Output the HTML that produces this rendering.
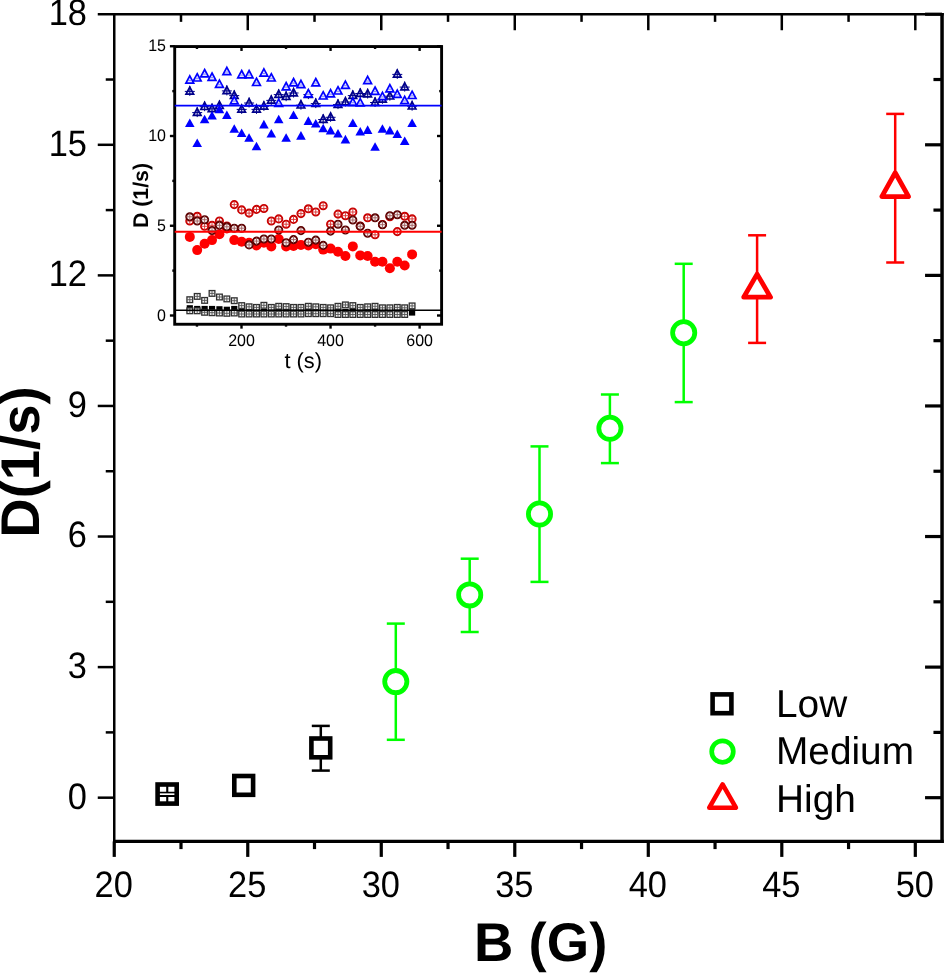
<!DOCTYPE html>
<html><head><meta charset="utf-8"><title>D vs B</title>
<style>html,body{margin:0;padding:0;background:#fff;}body{width:944px;height:974px;overflow:hidden;font-family:"Liberation Sans",sans-serif;}</style>
</head><body>
<svg width="944" height="974" viewBox="0 0 944 974" style="display:block;will-change:transform" text-rendering="geometricPrecision">
<rect width="944" height="974" fill="#fff"/>
<g stroke="#000" fill="none" stroke-linecap="butt">
<line x1="114.25" y1="12.950000000000001" x2="114.25" y2="842.9" stroke-width="2.5"/>
<line x1="942.05" y1="12.950000000000001" x2="942.05" y2="842.9" stroke-width="3.5"/>
<line x1="113.05" y1="14.15" x2="943.75" y2="14.15" stroke-width="2.5"/>
<line x1="113.05" y1="841.4" x2="943.75" y2="841.4" stroke-width="3.2"/>
<line x1="97.75" y1="797.68" x2="114.25" y2="797.68" stroke-width="2.5"/>
<line x1="925.05" y1="797.68" x2="942.05" y2="797.68" stroke-width="3.2"/>
<line x1="97.75" y1="667.11" x2="114.25" y2="667.11" stroke-width="2.5"/>
<line x1="925.05" y1="667.11" x2="942.05" y2="667.11" stroke-width="3.2"/>
<line x1="97.75" y1="536.53" x2="114.25" y2="536.53" stroke-width="2.5"/>
<line x1="925.05" y1="536.53" x2="942.05" y2="536.53" stroke-width="3.2"/>
<line x1="97.75" y1="405.95" x2="114.25" y2="405.95" stroke-width="2.5"/>
<line x1="925.05" y1="405.95" x2="942.05" y2="405.95" stroke-width="3.2"/>
<line x1="97.75" y1="275.38" x2="114.25" y2="275.38" stroke-width="2.5"/>
<line x1="925.05" y1="275.38" x2="942.05" y2="275.38" stroke-width="3.2"/>
<line x1="97.75" y1="144.80" x2="114.25" y2="144.80" stroke-width="2.5"/>
<line x1="925.05" y1="144.80" x2="942.05" y2="144.80" stroke-width="3.2"/>
<line x1="97.75" y1="14.23" x2="114.25" y2="14.23" stroke-width="2.5"/>
<line x1="925.05" y1="14.23" x2="942.05" y2="14.23" stroke-width="3.2"/>
<line x1="105.75" y1="732.39" x2="114.25" y2="732.39" stroke-width="2.5"/>
<line x1="933.4499999999999" y1="732.39" x2="942.05" y2="732.39" stroke-width="3.2"/>
<line x1="105.75" y1="601.82" x2="114.25" y2="601.82" stroke-width="2.5"/>
<line x1="933.4499999999999" y1="601.82" x2="942.05" y2="601.82" stroke-width="3.2"/>
<line x1="105.75" y1="471.24" x2="114.25" y2="471.24" stroke-width="2.5"/>
<line x1="933.4499999999999" y1="471.24" x2="942.05" y2="471.24" stroke-width="3.2"/>
<line x1="105.75" y1="340.67" x2="114.25" y2="340.67" stroke-width="2.5"/>
<line x1="933.4499999999999" y1="340.67" x2="942.05" y2="340.67" stroke-width="3.2"/>
<line x1="105.75" y1="210.09" x2="114.25" y2="210.09" stroke-width="2.5"/>
<line x1="933.4499999999999" y1="210.09" x2="942.05" y2="210.09" stroke-width="3.2"/>
<line x1="105.75" y1="79.52" x2="114.25" y2="79.52" stroke-width="2.5"/>
<line x1="933.4499999999999" y1="79.52" x2="942.05" y2="79.52" stroke-width="3.2"/>
<line x1="114.25" y1="841.4" x2="114.25" y2="856.9" stroke-width="3.2"/>
<line x1="247.76" y1="841.4" x2="247.76" y2="856.9" stroke-width="3.2"/>
<line x1="247.76" y1="14.15" x2="247.76" y2="30.25" stroke-width="2.5"/>
<line x1="381.27" y1="841.4" x2="381.27" y2="856.9" stroke-width="3.2"/>
<line x1="381.27" y1="14.15" x2="381.27" y2="30.25" stroke-width="2.5"/>
<line x1="514.78" y1="841.4" x2="514.78" y2="856.9" stroke-width="3.2"/>
<line x1="514.78" y1="14.15" x2="514.78" y2="30.25" stroke-width="2.5"/>
<line x1="648.29" y1="841.4" x2="648.29" y2="856.9" stroke-width="3.2"/>
<line x1="648.29" y1="14.15" x2="648.29" y2="30.25" stroke-width="2.5"/>
<line x1="781.80" y1="841.4" x2="781.80" y2="856.9" stroke-width="3.2"/>
<line x1="781.80" y1="14.15" x2="781.80" y2="30.25" stroke-width="2.5"/>
<line x1="915.31" y1="841.4" x2="915.31" y2="856.9" stroke-width="3.2"/>
<line x1="915.31" y1="14.15" x2="915.31" y2="30.25" stroke-width="2.5"/>
<line x1="181.00" y1="841.4" x2="181.00" y2="849.1" stroke-width="3.2"/>
<line x1="181.00" y1="14.15" x2="181.00" y2="21.85" stroke-width="2.5"/>
<line x1="314.51" y1="841.4" x2="314.51" y2="849.1" stroke-width="3.2"/>
<line x1="314.51" y1="14.15" x2="314.51" y2="21.85" stroke-width="2.5"/>
<line x1="448.03" y1="841.4" x2="448.03" y2="849.1" stroke-width="3.2"/>
<line x1="448.03" y1="14.15" x2="448.03" y2="21.85" stroke-width="2.5"/>
<line x1="581.54" y1="841.4" x2="581.54" y2="849.1" stroke-width="3.2"/>
<line x1="581.54" y1="14.15" x2="581.54" y2="21.85" stroke-width="2.5"/>
<line x1="715.05" y1="841.4" x2="715.05" y2="849.1" stroke-width="3.2"/>
<line x1="715.05" y1="14.15" x2="715.05" y2="21.85" stroke-width="2.5"/>
<line x1="848.56" y1="841.4" x2="848.56" y2="849.1" stroke-width="3.2"/>
<line x1="848.56" y1="14.15" x2="848.56" y2="21.85" stroke-width="2.5"/>
</g>
<g font-family="Liberation Sans, sans-serif" font-size="36.8" fill="#000">
<text transform="translate(87.0,808.58) scale(0.935,1)" text-anchor="end">0</text>
<text transform="translate(87.0,678.00) scale(0.935,1)" text-anchor="end">3</text>
<text transform="translate(87.0,547.43) scale(0.935,1)" text-anchor="end">6</text>
<text transform="translate(87.0,416.85) scale(0.935,1)" text-anchor="end">9</text>
<text transform="translate(87.0,286.28) scale(0.935,1)" text-anchor="end">12</text>
<text transform="translate(87.0,155.70) scale(0.935,1)" text-anchor="end">15</text>
<text transform="translate(87.0,25.13) scale(0.935,1)" text-anchor="end">18</text>
<text transform="translate(113.75,896.7) scale(0.935,1)" text-anchor="middle">20</text>
<text transform="translate(247.26,896.7) scale(0.935,1)" text-anchor="middle">25</text>
<text transform="translate(380.77,896.7) scale(0.935,1)" text-anchor="middle">30</text>
<text transform="translate(514.28,896.7) scale(0.935,1)" text-anchor="middle">35</text>
<text transform="translate(647.79,896.7) scale(0.935,1)" text-anchor="middle">40</text>
<text transform="translate(781.30,896.7) scale(0.935,1)" text-anchor="middle">45</text>
<text transform="translate(914.81,896.7) scale(0.935,1)" text-anchor="middle">50</text>
</g>
<g font-family="Liberation Sans, sans-serif" font-weight="bold" fill="#000">
<text x="540.7" y="960.7" font-size="54.5" text-anchor="middle">B (G)</text>
<text transform="translate(39.4,462.0) rotate(-90)" font-size="54.5" text-anchor="middle">D(1/s)</text>
</g>
<rect x="157.60" y="784.50" width="19.10" height="19.10" fill="#fff" stroke="#000" stroke-width="4.6"/>
<g stroke="#000"><line x1="167.25" y1="786" x2="167.25" y2="792.6" stroke-width="2.1"/><line x1="167.25" y1="796" x2="167.25" y2="802" stroke-width="2.1"/><line x1="159" y1="792.55" x2="175.4" y2="792.55" stroke-width="1.6"/><line x1="159" y1="796.0" x2="175.4" y2="796.0" stroke-width="2.0"/></g>
<rect x="234.30" y="776.00" width="18.80" height="18.80" fill="#fff" stroke="#000" stroke-width="4.6"/>
<g stroke="#000" stroke-width="2.5" fill="none">
<line x1="320.8" y1="725.9" x2="320.8" y2="770.6"/>
<line x1="311.8" y1="725.9" x2="329.8" y2="725.9"/>
<line x1="311.8" y1="770.6" x2="329.8" y2="770.6"/>
</g>
<rect x="311.40" y="738.50" width="18.80" height="18.80" fill="#fff" stroke="#000" stroke-width="4.6"/>
<g stroke="#0f0" stroke-width="2.5" fill="none">
<line x1="395.8" y1="623.6" x2="395.8" y2="739.8"/>
<line x1="386.8" y1="623.6" x2="404.8" y2="623.6"/>
<line x1="386.8" y1="739.8" x2="404.8" y2="739.8"/>
</g>
<circle cx="395.8" cy="681.6" r="11.10" fill="#fff" stroke="#0f0" stroke-width="4.8"/>
<g stroke="#0f0" stroke-width="2.5" fill="none">
<line x1="469.7" y1="558.7" x2="469.7" y2="632.0"/>
<line x1="460.7" y1="558.7" x2="478.7" y2="558.7"/>
<line x1="460.7" y1="632.0" x2="478.7" y2="632.0"/>
</g>
<circle cx="469.7" cy="594.9" r="11.10" fill="#fff" stroke="#0f0" stroke-width="4.8"/>
<g stroke="#0f0" stroke-width="2.5" fill="none">
<line x1="539.5" y1="446.4" x2="539.5" y2="581.9"/>
<line x1="530.5" y1="446.4" x2="548.5" y2="446.4"/>
<line x1="530.5" y1="581.9" x2="548.5" y2="581.9"/>
</g>
<circle cx="539.5" cy="514" r="11.10" fill="#fff" stroke="#0f0" stroke-width="4.8"/>
<g stroke="#0f0" stroke-width="2.5" fill="none">
<line x1="609.9" y1="394.5" x2="609.9" y2="463.1"/>
<line x1="600.9" y1="394.5" x2="618.9" y2="394.5"/>
<line x1="600.9" y1="463.1" x2="618.9" y2="463.1"/>
</g>
<circle cx="609.9" cy="428.3" r="11.10" fill="#fff" stroke="#0f0" stroke-width="4.8"/>
<g stroke="#0f0" stroke-width="2.5" fill="none">
<line x1="683.7" y1="263.8" x2="683.7" y2="402.1"/>
<line x1="674.7" y1="263.8" x2="692.7" y2="263.8"/>
<line x1="674.7" y1="402.1" x2="692.7" y2="402.1"/>
</g>
<circle cx="683.7" cy="332.7" r="11.10" fill="#fff" stroke="#0f0" stroke-width="4.8"/>
<g stroke="#f00" stroke-width="2.5" fill="none">
<line x1="757.1" y1="235.3" x2="757.1" y2="342.9"/>
<line x1="748.1" y1="235.3" x2="766.1" y2="235.3"/>
<line x1="748.1" y1="342.9" x2="766.1" y2="342.9"/>
</g>
<path d="M757.10,274.10 L770.50,297.20 L743.70,297.20 Z" fill="#fff" stroke="#f00" stroke-width="4.8" stroke-linejoin="round"/>
<g stroke="#f00" stroke-width="2.5" fill="none">
<line x1="895.2" y1="113.9" x2="895.2" y2="262.5"/>
<line x1="886.2" y1="113.9" x2="904.2" y2="113.9"/>
<line x1="886.2" y1="262.5" x2="904.2" y2="262.5"/>
</g>
<path d="M895.20,172.80 L908.60,196.60 L881.80,196.60 Z" fill="#fff" stroke="#f00" stroke-width="4.8" stroke-linejoin="round"/>
<rect x="712.60" y="694.40" width="18.80" height="18.80" fill="#fff" stroke="#000" stroke-width="4.6"/>
<circle cx="722.5" cy="751.6" r="10.80" fill="#fff" stroke="#0f0" stroke-width="4.7"/>
<path d="M722.60,784.40 L735.90,807.70 L709.30,807.70 Z" fill="#fff" stroke="#f00" stroke-width="4.6" stroke-linejoin="round"/>
<g font-family="Liberation Sans, sans-serif" font-size="38.8" fill="#000">
<text x="776" y="717.3">Low</text>
<text x="776" y="764.3">Medium</text>
<text x="776" y="812.4">High</text>
</g>
<g stroke="#000" stroke-width="2.9" fill="none">
<rect x="174.7" y="46.55" width="266.90000000000003" height="277.7"/>
</g>
<g stroke="#000" stroke-width="2.4" fill="none">
<line x1="169.89999999999998" y1="315.50" x2="174.7" y2="315.50"/>
<line x1="437.0" y1="315.50" x2="441.6" y2="315.50"/>
<line x1="169.89999999999998" y1="225.75" x2="174.7" y2="225.75"/>
<line x1="437.0" y1="225.75" x2="441.6" y2="225.75"/>
<line x1="169.89999999999998" y1="136.00" x2="174.7" y2="136.00"/>
<line x1="437.0" y1="136.00" x2="441.6" y2="136.00"/>
<line x1="169.89999999999998" y1="46.25" x2="174.7" y2="46.25"/>
<line x1="437.0" y1="46.25" x2="441.6" y2="46.25"/>
<line x1="172.29999999999998" y1="270.62" x2="174.7" y2="270.62"/>
<line x1="439.20000000000005" y1="270.62" x2="441.6" y2="270.62"/>
<line x1="172.29999999999998" y1="180.88" x2="174.7" y2="180.88"/>
<line x1="439.20000000000005" y1="180.88" x2="441.6" y2="180.88"/>
<line x1="172.29999999999998" y1="91.12" x2="174.7" y2="91.12"/>
<line x1="439.20000000000005" y1="91.12" x2="441.6" y2="91.12"/>
<line x1="241.50" y1="324.25" x2="241.50" y2="328.65"/>
<line x1="241.50" y1="46.55" x2="241.50" y2="50.949999999999996"/>
<line x1="330.55" y1="324.25" x2="330.55" y2="328.65"/>
<line x1="330.55" y1="46.55" x2="330.55" y2="50.949999999999996"/>
<line x1="419.62" y1="324.25" x2="419.62" y2="328.65"/>
<line x1="419.62" y1="46.55" x2="419.62" y2="50.949999999999996"/>
<line x1="196.96" y1="324.25" x2="196.96" y2="326.65"/>
<line x1="196.96" y1="46.55" x2="196.96" y2="48.949999999999996"/>
<line x1="286.02" y1="324.25" x2="286.02" y2="326.65"/>
<line x1="286.02" y1="46.55" x2="286.02" y2="48.949999999999996"/>
<line x1="375.08" y1="324.25" x2="375.08" y2="326.65"/>
<line x1="375.08" y1="46.55" x2="375.08" y2="48.949999999999996"/>
</g>
<g font-family="Liberation Sans, sans-serif" font-size="16.7" fill="#000">
<text transform="translate(166,320.50) scale(0.96,1)" text-anchor="end">0</text>
<text transform="translate(166,230.75) scale(0.96,1)" text-anchor="end">5</text>
<text transform="translate(166,141.00) scale(0.96,1)" text-anchor="end">10</text>
<text transform="translate(166,51.25) scale(0.96,1)" text-anchor="end">15</text>
<text transform="translate(241.50,345.9) scale(0.96,1)" text-anchor="middle">200</text>
<text transform="translate(330.55,345.9) scale(0.96,1)" text-anchor="middle">400</text>
<text transform="translate(419.62,345.9) scale(0.96,1)" text-anchor="middle">600</text>
<text x="303.2" y="368.3" font-size="21.8" text-anchor="middle">t (s)</text>
<text transform="translate(148.4,195.5) rotate(-90)" font-size="21.3" font-weight="bold" text-anchor="middle">D (1/s)</text>
</g>
<rect x="186.70" y="305.20" width="6.2" height="6.2" fill="#000"/>
<rect x="194.11" y="305.90" width="6.2" height="6.2" fill="#000"/>
<rect x="201.52" y="305.90" width="6.2" height="6.2" fill="#000"/>
<rect x="208.93" y="305.90" width="6.2" height="6.2" fill="#000"/>
<rect x="216.34" y="306.20" width="6.2" height="6.2" fill="#000"/>
<rect x="223.75" y="306.70" width="6.2" height="6.2" fill="#000"/>
<rect x="231.16" y="305.90" width="6.2" height="6.2" fill="#000"/>
<rect x="238.57" y="308.90" width="6.2" height="6.2" fill="#000"/>
<rect x="245.98" y="308.90" width="6.2" height="6.2" fill="#000"/>
<rect x="253.39" y="308.90" width="6.2" height="6.2" fill="#000"/>
<rect x="260.80" y="308.90" width="6.2" height="6.2" fill="#000"/>
<rect x="268.21" y="308.90" width="6.2" height="6.2" fill="#000"/>
<rect x="275.62" y="308.90" width="6.2" height="6.2" fill="#000"/>
<rect x="283.03" y="308.90" width="6.2" height="6.2" fill="#000"/>
<rect x="290.44" y="308.90" width="6.2" height="6.2" fill="#000"/>
<rect x="297.85" y="308.90" width="6.2" height="6.2" fill="#000"/>
<rect x="305.26" y="308.90" width="6.2" height="6.2" fill="#000"/>
<rect x="312.67" y="308.90" width="6.2" height="6.2" fill="#000"/>
<rect x="320.08" y="308.90" width="6.2" height="6.2" fill="#000"/>
<rect x="327.49" y="308.90" width="6.2" height="6.2" fill="#000"/>
<rect x="334.90" y="308.90" width="6.2" height="6.2" fill="#000"/>
<rect x="342.31" y="308.90" width="6.2" height="6.2" fill="#000"/>
<rect x="349.72" y="308.90" width="6.2" height="6.2" fill="#000"/>
<rect x="357.13" y="308.90" width="6.2" height="6.2" fill="#000"/>
<rect x="364.54" y="308.90" width="6.2" height="6.2" fill="#000"/>
<rect x="371.95" y="308.90" width="6.2" height="6.2" fill="#000"/>
<rect x="379.36" y="308.90" width="6.2" height="6.2" fill="#000"/>
<rect x="386.77" y="308.90" width="6.2" height="6.2" fill="#000"/>
<rect x="394.18" y="308.90" width="6.2" height="6.2" fill="#000"/>
<rect x="401.59" y="308.90" width="6.2" height="6.2" fill="#000"/>
<rect x="409.00" y="309.40" width="6.2" height="6.2" fill="#000"/>
<g stroke="#303030" stroke-width="1.3" fill="#f2f2f2"><rect x="186.95" y="296.85" width="5.7" height="5.7"/><path d="M186.95,299.70h5.7M189.80,296.85v5.7" stroke-width="0.9" stroke="#555"/></g>
<g stroke="#303030" stroke-width="1.3" fill="#f2f2f2"><rect x="194.36" y="293.55" width="5.7" height="5.7"/><path d="M194.36,296.40h5.7M197.21,293.55v5.7" stroke-width="0.9" stroke="#555"/></g>
<g stroke="#303030" stroke-width="1.3" fill="#f2f2f2"><rect x="201.77" y="297.55" width="5.7" height="5.7"/><path d="M201.77,300.40h5.7M204.62,297.55v5.7" stroke-width="0.9" stroke="#555"/></g>
<g stroke="#303030" stroke-width="1.3" fill="#f2f2f2"><rect x="209.18" y="290.55" width="5.7" height="5.7"/><path d="M209.18,293.40h5.7M212.03,290.55v5.7" stroke-width="0.9" stroke="#555"/></g>
<g stroke="#303030" stroke-width="1.3" fill="#f2f2f2"><rect x="216.59" y="294.15" width="5.7" height="5.7"/><path d="M216.59,297.00h5.7M219.44,294.15v5.7" stroke-width="0.9" stroke="#555"/></g>
<g stroke="#303030" stroke-width="1.3" fill="#f2f2f2"><rect x="224.00" y="296.05" width="5.7" height="5.7"/><path d="M224.00,298.90h5.7M226.85,296.05v5.7" stroke-width="0.9" stroke="#555"/></g>
<g stroke="#303030" stroke-width="1.3" fill="#f2f2f2"><rect x="231.41" y="297.85" width="5.7" height="5.7"/><path d="M231.41,300.70h5.7M234.26,297.85v5.7" stroke-width="0.9" stroke="#555"/></g>
<g stroke="#303030" stroke-width="1.3" fill="#f2f2f2"><rect x="238.82" y="302.75" width="5.7" height="5.7"/><path d="M238.82,305.60h5.7M241.67,302.75v5.7" stroke-width="0.9" stroke="#555"/></g>
<g stroke="#303030" stroke-width="1.3" fill="#f2f2f2"><rect x="246.23" y="303.95" width="5.7" height="5.7"/><path d="M246.23,306.80h5.7M249.08,303.95v5.7" stroke-width="0.9" stroke="#555"/></g>
<g stroke="#303030" stroke-width="1.3" fill="#f2f2f2"><rect x="253.64" y="304.55" width="5.7" height="5.7"/><path d="M253.64,307.40h5.7M256.49,304.55v5.7" stroke-width="0.9" stroke="#555"/></g>
<g stroke="#303030" stroke-width="1.3" fill="#f2f2f2"><rect x="261.05" y="302.45" width="5.7" height="5.7"/><path d="M261.05,305.30h5.7M263.90,302.45v5.7" stroke-width="0.9" stroke="#555"/></g>
<g stroke="#303030" stroke-width="1.3" fill="#f2f2f2"><rect x="268.46" y="304.55" width="5.7" height="5.7"/><path d="M268.46,307.40h5.7M271.31,304.55v5.7" stroke-width="0.9" stroke="#555"/></g>
<g stroke="#303030" stroke-width="1.3" fill="#f2f2f2"><rect x="275.87" y="303.45" width="5.7" height="5.7"/><path d="M275.87,306.30h5.7M278.72,303.45v5.7" stroke-width="0.9" stroke="#555"/></g>
<g stroke="#303030" stroke-width="1.3" fill="#f2f2f2"><rect x="283.28" y="303.75" width="5.7" height="5.7"/><path d="M283.28,306.60h5.7M286.13,303.75v5.7" stroke-width="0.9" stroke="#555"/></g>
<g stroke="#303030" stroke-width="1.3" fill="#f2f2f2"><rect x="290.69" y="304.55" width="5.7" height="5.7"/><path d="M290.69,307.40h5.7M293.54,304.55v5.7" stroke-width="0.9" stroke="#555"/></g>
<g stroke="#303030" stroke-width="1.3" fill="#f2f2f2"><rect x="298.10" y="304.55" width="5.7" height="5.7"/><path d="M298.10,307.40h5.7M300.95,304.55v5.7" stroke-width="0.9" stroke="#555"/></g>
<g stroke="#303030" stroke-width="1.3" fill="#f2f2f2"><rect x="305.51" y="303.45" width="5.7" height="5.7"/><path d="M305.51,306.30h5.7M308.36,303.45v5.7" stroke-width="0.9" stroke="#555"/></g>
<g stroke="#303030" stroke-width="1.3" fill="#f2f2f2"><rect x="312.92" y="303.95" width="5.7" height="5.7"/><path d="M312.92,306.80h5.7M315.77,303.95v5.7" stroke-width="0.9" stroke="#555"/></g>
<g stroke="#303030" stroke-width="1.3" fill="#f2f2f2"><rect x="320.33" y="304.55" width="5.7" height="5.7"/><path d="M320.33,307.40h5.7M323.18,304.55v5.7" stroke-width="0.9" stroke="#555"/></g>
<g stroke="#303030" stroke-width="1.3" fill="#f2f2f2"><rect x="327.74" y="304.95" width="5.7" height="5.7"/><path d="M327.74,307.80h5.7M330.59,304.95v5.7" stroke-width="0.9" stroke="#555"/></g>
<g stroke="#303030" stroke-width="1.3" fill="#f2f2f2"><rect x="335.15" y="303.45" width="5.7" height="5.7"/><path d="M335.15,306.30h5.7M338.00,303.45v5.7" stroke-width="0.9" stroke="#555"/></g>
<g stroke="#303030" stroke-width="1.3" fill="#f2f2f2"><rect x="342.56" y="302.05" width="5.7" height="5.7"/><path d="M342.56,304.90h5.7M345.41,302.05v5.7" stroke-width="0.9" stroke="#555"/></g>
<g stroke="#303030" stroke-width="1.3" fill="#f2f2f2"><rect x="349.97" y="302.75" width="5.7" height="5.7"/><path d="M349.97,305.60h5.7M352.82,302.75v5.7" stroke-width="0.9" stroke="#555"/></g>
<g stroke="#303030" stroke-width="1.3" fill="#f2f2f2"><rect x="357.38" y="304.55" width="5.7" height="5.7"/><path d="M357.38,307.40h5.7M360.23,304.55v5.7" stroke-width="0.9" stroke="#555"/></g>
<g stroke="#303030" stroke-width="1.3" fill="#f2f2f2"><rect x="364.79" y="303.95" width="5.7" height="5.7"/><path d="M364.79,306.80h5.7M367.64,303.95v5.7" stroke-width="0.9" stroke="#555"/></g>
<g stroke="#303030" stroke-width="1.3" fill="#f2f2f2"><rect x="372.20" y="303.45" width="5.7" height="5.7"/><path d="M372.20,306.30h5.7M375.05,303.45v5.7" stroke-width="0.9" stroke="#555"/></g>
<g stroke="#303030" stroke-width="1.3" fill="#f2f2f2"><rect x="379.61" y="304.95" width="5.7" height="5.7"/><path d="M379.61,307.80h5.7M382.46,304.95v5.7" stroke-width="0.9" stroke="#555"/></g>
<g stroke="#303030" stroke-width="1.3" fill="#f2f2f2"><rect x="387.02" y="304.95" width="5.7" height="5.7"/><path d="M387.02,307.80h5.7M389.87,304.95v5.7" stroke-width="0.9" stroke="#555"/></g>
<g stroke="#303030" stroke-width="1.3" fill="#f2f2f2"><rect x="394.43" y="304.55" width="5.7" height="5.7"/><path d="M394.43,307.40h5.7M397.28,304.55v5.7" stroke-width="0.9" stroke="#555"/></g>
<g stroke="#303030" stroke-width="1.3" fill="#f2f2f2"><rect x="401.84" y="304.95" width="5.7" height="5.7"/><path d="M401.84,307.80h5.7M404.69,304.95v5.7" stroke-width="0.9" stroke="#555"/></g>
<g stroke="#303030" stroke-width="1.3" fill="#f2f2f2"><rect x="409.25" y="303.05" width="5.7" height="5.7"/><path d="M409.25,305.90h5.7M412.10,303.05v5.7" stroke-width="0.9" stroke="#555"/></g>
<g stroke="#303030" stroke-width="1.3" fill="#f2f2f2"><rect x="186.95" y="307.95" width="5.7" height="5.7"/><path d="M186.95,310.80h5.7M189.80,307.95v5.7" stroke-width="0.9" stroke="#555"/></g>
<g stroke="#303030" stroke-width="1.3" fill="#f2f2f2"><rect x="194.36" y="307.95" width="5.7" height="5.7"/><path d="M194.36,310.80h5.7M197.21,307.95v5.7" stroke-width="0.9" stroke="#555"/></g>
<g stroke="#303030" stroke-width="1.3" fill="#f2f2f2"><rect x="201.77" y="309.45" width="5.7" height="5.7"/><path d="M201.77,312.30h5.7M204.62,309.45v5.7" stroke-width="0.9" stroke="#555"/></g>
<g stroke="#303030" stroke-width="1.3" fill="#f2f2f2"><rect x="209.18" y="309.85" width="5.7" height="5.7"/><path d="M209.18,312.70h5.7M212.03,309.85v5.7" stroke-width="0.9" stroke="#555"/></g>
<g stroke="#303030" stroke-width="1.3" fill="#f2f2f2"><rect x="216.59" y="310.15" width="5.7" height="5.7"/><path d="M216.59,313.00h5.7M219.44,310.15v5.7" stroke-width="0.9" stroke="#555"/></g>
<g stroke="#303030" stroke-width="1.3" fill="#f2f2f2"><rect x="224.00" y="310.45" width="5.7" height="5.7"/><path d="M224.00,313.30h5.7M226.85,310.45v5.7" stroke-width="0.9" stroke="#555"/></g>
<g stroke="#303030" stroke-width="1.3" fill="#f2f2f2"><rect x="231.41" y="310.15" width="5.7" height="5.7"/><path d="M231.41,313.00h5.7M234.26,310.15v5.7" stroke-width="0.9" stroke="#555"/></g>
<g stroke="#303030" stroke-width="1.3" fill="#f2f2f2"><rect x="238.82" y="311.15" width="5.7" height="5.7"/><path d="M238.82,314.00h5.7M241.67,311.15v5.7" stroke-width="0.9" stroke="#555"/></g>
<g stroke="#303030" stroke-width="1.3" fill="#f2f2f2"><rect x="246.23" y="311.15" width="5.7" height="5.7"/><path d="M246.23,314.00h5.7M249.08,311.15v5.7" stroke-width="0.9" stroke="#555"/></g>
<g stroke="#303030" stroke-width="1.3" fill="#f2f2f2"><rect x="253.64" y="311.15" width="5.7" height="5.7"/><path d="M253.64,314.00h5.7M256.49,311.15v5.7" stroke-width="0.9" stroke="#555"/></g>
<g stroke="#303030" stroke-width="1.3" fill="#f2f2f2"><rect x="261.05" y="311.15" width="5.7" height="5.7"/><path d="M261.05,314.00h5.7M263.90,311.15v5.7" stroke-width="0.9" stroke="#555"/></g>
<g stroke="#303030" stroke-width="1.3" fill="#f2f2f2"><rect x="268.46" y="311.15" width="5.7" height="5.7"/><path d="M268.46,314.00h5.7M271.31,311.15v5.7" stroke-width="0.9" stroke="#555"/></g>
<g stroke="#303030" stroke-width="1.3" fill="#f2f2f2"><rect x="275.87" y="311.15" width="5.7" height="5.7"/><path d="M275.87,314.00h5.7M278.72,311.15v5.7" stroke-width="0.9" stroke="#555"/></g>
<g stroke="#303030" stroke-width="1.3" fill="#f2f2f2"><rect x="283.28" y="311.15" width="5.7" height="5.7"/><path d="M283.28,314.00h5.7M286.13,311.15v5.7" stroke-width="0.9" stroke="#555"/></g>
<g stroke="#303030" stroke-width="1.3" fill="#f2f2f2"><rect x="290.69" y="311.15" width="5.7" height="5.7"/><path d="M290.69,314.00h5.7M293.54,311.15v5.7" stroke-width="0.9" stroke="#555"/></g>
<g stroke="#303030" stroke-width="1.3" fill="#f2f2f2"><rect x="298.10" y="311.15" width="5.7" height="5.7"/><path d="M298.10,314.00h5.7M300.95,311.15v5.7" stroke-width="0.9" stroke="#555"/></g>
<g stroke="#303030" stroke-width="1.3" fill="#f2f2f2"><rect x="305.51" y="310.85" width="5.7" height="5.7"/><path d="M305.51,313.70h5.7M308.36,310.85v5.7" stroke-width="0.9" stroke="#555"/></g>
<g stroke="#303030" stroke-width="1.3" fill="#f2f2f2"><rect x="312.92" y="310.85" width="5.7" height="5.7"/><path d="M312.92,313.70h5.7M315.77,310.85v5.7" stroke-width="0.9" stroke="#555"/></g>
<g stroke="#303030" stroke-width="1.3" fill="#f2f2f2"><rect x="320.33" y="310.85" width="5.7" height="5.7"/><path d="M320.33,313.70h5.7M323.18,310.85v5.7" stroke-width="0.9" stroke="#555"/></g>
<g stroke="#303030" stroke-width="1.3" fill="#f2f2f2"><rect x="327.74" y="310.85" width="5.7" height="5.7"/><path d="M327.74,313.70h5.7M330.59,310.85v5.7" stroke-width="0.9" stroke="#555"/></g>
<g stroke="#303030" stroke-width="1.3" fill="#f2f2f2"><rect x="335.15" y="311.65" width="5.7" height="5.7"/><path d="M335.15,314.50h5.7M338.00,311.65v5.7" stroke-width="0.9" stroke="#555"/></g>
<g stroke="#303030" stroke-width="1.3" fill="#f2f2f2"><rect x="342.56" y="311.65" width="5.7" height="5.7"/><path d="M342.56,314.50h5.7M345.41,311.65v5.7" stroke-width="0.9" stroke="#555"/></g>
<g stroke="#303030" stroke-width="1.3" fill="#f2f2f2"><rect x="349.97" y="311.65" width="5.7" height="5.7"/><path d="M349.97,314.50h5.7M352.82,311.65v5.7" stroke-width="0.9" stroke="#555"/></g>
<g stroke="#303030" stroke-width="1.3" fill="#f2f2f2"><rect x="357.38" y="311.65" width="5.7" height="5.7"/><path d="M357.38,314.50h5.7M360.23,311.65v5.7" stroke-width="0.9" stroke="#555"/></g>
<g stroke="#303030" stroke-width="1.3" fill="#f2f2f2"><rect x="364.79" y="311.65" width="5.7" height="5.7"/><path d="M364.79,314.50h5.7M367.64,311.65v5.7" stroke-width="0.9" stroke="#555"/></g>
<g stroke="#303030" stroke-width="1.3" fill="#f2f2f2"><rect x="372.20" y="311.65" width="5.7" height="5.7"/><path d="M372.20,314.50h5.7M375.05,311.65v5.7" stroke-width="0.9" stroke="#555"/></g>
<g stroke="#303030" stroke-width="1.3" fill="#f2f2f2"><rect x="379.61" y="311.65" width="5.7" height="5.7"/><path d="M379.61,314.50h5.7M382.46,311.65v5.7" stroke-width="0.9" stroke="#555"/></g>
<g stroke="#303030" stroke-width="1.3" fill="#f2f2f2"><rect x="387.02" y="311.65" width="5.7" height="5.7"/><path d="M387.02,314.50h5.7M389.87,311.65v5.7" stroke-width="0.9" stroke="#555"/></g>
<g stroke="#303030" stroke-width="1.3" fill="#f2f2f2"><rect x="394.43" y="311.65" width="5.7" height="5.7"/><path d="M394.43,314.50h5.7M397.28,311.65v5.7" stroke-width="0.9" stroke="#555"/></g>
<g stroke="#303030" stroke-width="1.3" fill="#f2f2f2"><rect x="401.84" y="311.65" width="5.7" height="5.7"/><path d="M401.84,314.50h5.7M404.69,311.65v5.7" stroke-width="0.9" stroke="#555"/></g>
<line x1="174.7" y1="310.2" x2="441.6" y2="310.2" stroke="#000" stroke-width="1.6"/>
<circle cx="189.80" cy="236.90" r="5.0" fill="#f00"/>
<circle cx="197.21" cy="250.10" r="5.0" fill="#f00"/>
<circle cx="204.62" cy="243.80" r="5.0" fill="#f00"/>
<circle cx="212.03" cy="240.10" r="5.0" fill="#f00"/>
<circle cx="219.44" cy="234.30" r="5.0" fill="#f00"/>
<circle cx="226.85" cy="228.50" r="5.0" fill="#f00"/>
<circle cx="234.26" cy="240.10" r="5.0" fill="#f00"/>
<circle cx="241.67" cy="241.70" r="5.0" fill="#f00"/>
<circle cx="249.08" cy="242.70" r="5.0" fill="#f00"/>
<circle cx="256.49" cy="245.40" r="5.0" fill="#f00"/>
<circle cx="263.90" cy="242.80" r="5.0" fill="#f00"/>
<circle cx="271.31" cy="246.40" r="5.0" fill="#f00"/>
<circle cx="278.72" cy="239.00" r="5.0" fill="#f00"/>
<circle cx="286.13" cy="246.40" r="5.0" fill="#f00"/>
<circle cx="293.54" cy="245.90" r="5.0" fill="#f00"/>
<circle cx="300.95" cy="244.90" r="5.0" fill="#f00"/>
<circle cx="308.36" cy="245.40" r="5.0" fill="#f00"/>
<circle cx="315.77" cy="244.30" r="5.0" fill="#f00"/>
<circle cx="323.18" cy="249.60" r="5.0" fill="#f00"/>
<circle cx="330.59" cy="248.60" r="5.0" fill="#f00"/>
<circle cx="338.00" cy="251.70" r="5.0" fill="#f00"/>
<circle cx="345.41" cy="256.00" r="5.0" fill="#f00"/>
<circle cx="352.82" cy="246.40" r="5.0" fill="#f00"/>
<circle cx="360.23" cy="255.40" r="5.0" fill="#f00"/>
<circle cx="367.64" cy="256.00" r="5.0" fill="#f00"/>
<circle cx="375.05" cy="261.80" r="5.0" fill="#f00"/>
<circle cx="382.46" cy="261.80" r="5.0" fill="#f00"/>
<circle cx="389.87" cy="268.20" r="5.0" fill="#f00"/>
<circle cx="397.28" cy="261.80" r="5.0" fill="#f00"/>
<circle cx="404.69" cy="265.50" r="5.0" fill="#f00"/>
<circle cx="412.10" cy="254.40" r="5.0" fill="#f00"/>
<g stroke="#c80000" fill="#fff" stroke-width="1.9"><circle cx="189.80" cy="221.00" r="3.6"/><path d="M186.20,221.00h7.2M189.80,217.40v7.2" stroke-width="0.9" stroke="#d83030"/></g>
<g stroke="#c80000" fill="#fff" stroke-width="1.9"><circle cx="197.21" cy="216.30" r="3.6"/><path d="M193.61,216.30h7.2M197.21,212.70v7.2" stroke-width="0.9" stroke="#d83030"/></g>
<g stroke="#c80000" fill="#fff" stroke-width="1.9"><circle cx="204.62" cy="226.30" r="3.6"/><path d="M201.02,226.30h7.2M204.62,222.70v7.2" stroke-width="0.9" stroke="#d83030"/></g>
<g stroke="#c80000" fill="#fff" stroke-width="1.9"><circle cx="212.03" cy="225.30" r="3.6"/><path d="M208.43,225.30h7.2M212.03,221.70v7.2" stroke-width="0.9" stroke="#d83030"/></g>
<g stroke="#c80000" fill="#fff" stroke-width="1.9"><circle cx="219.44" cy="221.00" r="3.6"/><path d="M215.84,221.00h7.2M219.44,217.40v7.2" stroke-width="0.9" stroke="#d83030"/></g>
<g stroke="#c80000" fill="#fff" stroke-width="1.9"><circle cx="226.85" cy="226.00" r="3.6"/><path d="M223.25,226.00h7.2M226.85,222.40v7.2" stroke-width="0.9" stroke="#d83030"/></g>
<g stroke="#c80000" fill="#fff" stroke-width="1.9"><circle cx="234.26" cy="204.60" r="3.6"/><path d="M230.66,204.60h7.2M234.26,201.00v7.2" stroke-width="0.9" stroke="#d83030"/></g>
<g stroke="#c80000" fill="#fff" stroke-width="1.9"><circle cx="241.67" cy="209.90" r="3.6"/><path d="M238.07,209.90h7.2M241.67,206.30v7.2" stroke-width="0.9" stroke="#d83030"/></g>
<g stroke="#c80000" fill="#fff" stroke-width="1.9"><circle cx="249.08" cy="213.10" r="3.6"/><path d="M245.48,213.10h7.2M249.08,209.50v7.2" stroke-width="0.9" stroke="#d83030"/></g>
<g stroke="#c80000" fill="#fff" stroke-width="1.9"><circle cx="256.49" cy="209.40" r="3.6"/><path d="M252.89,209.40h7.2M256.49,205.80v7.2" stroke-width="0.9" stroke="#d83030"/></g>
<g stroke="#c80000" fill="#fff" stroke-width="1.9"><circle cx="263.90" cy="208.50" r="3.6"/><path d="M260.30,208.50h7.2M263.90,204.90v7.2" stroke-width="0.9" stroke="#d83030"/></g>
<g stroke="#c80000" fill="#fff" stroke-width="1.9"><circle cx="271.31" cy="221.00" r="3.6"/><path d="M267.71,221.00h7.2M271.31,217.40v7.2" stroke-width="0.9" stroke="#d83030"/></g>
<g stroke="#c80000" fill="#fff" stroke-width="1.9"><circle cx="278.72" cy="218.90" r="3.6"/><path d="M275.12,218.90h7.2M278.72,215.30v7.2" stroke-width="0.9" stroke="#d83030"/></g>
<g stroke="#c80000" fill="#fff" stroke-width="1.9"><circle cx="286.13" cy="224.20" r="3.6"/><path d="M282.53,224.20h7.2M286.13,220.60v7.2" stroke-width="0.9" stroke="#d83030"/></g>
<g stroke="#c80000" fill="#fff" stroke-width="1.9"><circle cx="293.54" cy="219.40" r="3.6"/><path d="M289.94,219.40h7.2M293.54,215.80v7.2" stroke-width="0.9" stroke="#d83030"/></g>
<g stroke="#c80000" fill="#fff" stroke-width="1.9"><circle cx="300.95" cy="213.60" r="3.6"/><path d="M297.35,213.60h7.2M300.95,210.00v7.2" stroke-width="0.9" stroke="#d83030"/></g>
<g stroke="#c80000" fill="#fff" stroke-width="1.9"><circle cx="308.36" cy="208.80" r="3.6"/><path d="M304.76,208.80h7.2M308.36,205.20v7.2" stroke-width="0.9" stroke="#d83030"/></g>
<g stroke="#c80000" fill="#fff" stroke-width="1.9"><circle cx="315.77" cy="212.00" r="3.6"/><path d="M312.17,212.00h7.2M315.77,208.40v7.2" stroke-width="0.9" stroke="#d83030"/></g>
<g stroke="#c80000" fill="#fff" stroke-width="1.9"><circle cx="323.18" cy="205.70" r="3.6"/><path d="M319.58,205.70h7.2M323.18,202.10v7.2" stroke-width="0.9" stroke="#d83030"/></g>
<g stroke="#c80000" fill="#fff" stroke-width="1.9"><circle cx="330.59" cy="224.20" r="3.6"/><path d="M326.99,224.20h7.2M330.59,220.60v7.2" stroke-width="0.9" stroke="#d83030"/></g>
<g stroke="#c80000" fill="#fff" stroke-width="1.9"><circle cx="338.00" cy="214.10" r="3.6"/><path d="M334.40,214.10h7.2M338.00,210.50v7.2" stroke-width="0.9" stroke="#d83030"/></g>
<g stroke="#c80000" fill="#fff" stroke-width="1.9"><circle cx="345.41" cy="215.70" r="3.6"/><path d="M341.81,215.70h7.2M345.41,212.10v7.2" stroke-width="0.9" stroke="#d83030"/></g>
<g stroke="#c80000" fill="#fff" stroke-width="1.9"><circle cx="352.82" cy="212.00" r="3.6"/><path d="M349.22,212.00h7.2M352.82,208.40v7.2" stroke-width="0.9" stroke="#d83030"/></g>
<g stroke="#c80000" fill="#fff" stroke-width="1.9"><circle cx="360.23" cy="226.00" r="3.6"/><path d="M356.63,226.00h7.2M360.23,222.40v7.2" stroke-width="0.9" stroke="#d83030"/></g>
<g stroke="#c80000" fill="#fff" stroke-width="1.9"><circle cx="367.64" cy="217.80" r="3.6"/><path d="M364.04,217.80h7.2M367.64,214.20v7.2" stroke-width="0.9" stroke="#d83030"/></g>
<g stroke="#c80000" fill="#fff" stroke-width="1.9"><circle cx="375.05" cy="234.80" r="3.6"/><path d="M371.45,234.80h7.2M375.05,231.20v7.2" stroke-width="0.9" stroke="#d83030"/></g>
<g stroke="#c80000" fill="#fff" stroke-width="1.9"><circle cx="382.46" cy="224.50" r="3.6"/><path d="M378.86,224.50h7.2M382.46,220.90v7.2" stroke-width="0.9" stroke="#d83030"/></g>
<g stroke="#c80000" fill="#fff" stroke-width="1.9"><circle cx="389.87" cy="216.80" r="3.6"/><path d="M386.27,216.80h7.2M389.87,213.20v7.2" stroke-width="0.9" stroke="#d83030"/></g>
<g stroke="#c80000" fill="#fff" stroke-width="1.9"><circle cx="397.28" cy="231.60" r="3.6"/><path d="M393.68,231.60h7.2M397.28,228.00v7.2" stroke-width="0.9" stroke="#d83030"/></g>
<g stroke="#c80000" fill="#fff" stroke-width="1.9"><circle cx="404.69" cy="216.30" r="3.6"/><path d="M401.09,216.30h7.2M404.69,212.70v7.2" stroke-width="0.9" stroke="#d83030"/></g>
<g stroke="#c80000" fill="#fff" stroke-width="1.9"><circle cx="412.10" cy="218.90" r="3.6"/><path d="M408.50,218.90h7.2M412.10,215.30v7.2" stroke-width="0.9" stroke="#d83030"/></g>
<g stroke="#5c0000" fill="#f6f2f2" stroke-width="1.9"><circle cx="189.80" cy="216.80" r="3.6"/><path d="M186.20,216.80h7.2M189.80,213.20v7.2" stroke-width="0.9" stroke="#a06060"/></g>
<g stroke="#5c0000" fill="#f6f2f2" stroke-width="1.9"><circle cx="197.21" cy="221.00" r="3.6"/><path d="M193.61,221.00h7.2M197.21,217.40v7.2" stroke-width="0.9" stroke="#a06060"/></g>
<g stroke="#5c0000" fill="#f6f2f2" stroke-width="1.9"><circle cx="204.62" cy="219.70" r="3.6"/><path d="M201.02,219.70h7.2M204.62,216.10v7.2" stroke-width="0.9" stroke="#a06060"/></g>
<g stroke="#5c0000" fill="#f6f2f2" stroke-width="1.9"><circle cx="212.03" cy="230.60" r="3.6"/><path d="M208.43,230.60h7.2M212.03,227.00v7.2" stroke-width="0.9" stroke="#a06060"/></g>
<g stroke="#5c0000" fill="#f6f2f2" stroke-width="1.9"><circle cx="219.44" cy="225.30" r="3.6"/><path d="M215.84,225.30h7.2M219.44,221.70v7.2" stroke-width="0.9" stroke="#a06060"/></g>
<g stroke="#5c0000" fill="#f6f2f2" stroke-width="1.9"><circle cx="226.85" cy="226.80" r="3.6"/><path d="M223.25,226.80h7.2M226.85,223.20v7.2" stroke-width="0.9" stroke="#a06060"/></g>
<g stroke="#5c0000" fill="#f6f2f2" stroke-width="1.9"><circle cx="234.26" cy="228.20" r="3.6"/><path d="M230.66,228.20h7.2M234.26,224.60v7.2" stroke-width="0.9" stroke="#a06060"/></g>
<g stroke="#5c0000" fill="#f6f2f2" stroke-width="1.9"><circle cx="241.67" cy="228.20" r="3.6"/><path d="M238.07,228.20h7.2M241.67,224.60v7.2" stroke-width="0.9" stroke="#a06060"/></g>
<g stroke="#5c0000" fill="#f6f2f2" stroke-width="1.9"><circle cx="249.08" cy="244.90" r="3.6"/><path d="M245.48,244.90h7.2M249.08,241.30v7.2" stroke-width="0.9" stroke="#a06060"/></g>
<g stroke="#5c0000" fill="#f6f2f2" stroke-width="1.9"><circle cx="256.49" cy="241.10" r="3.6"/><path d="M252.89,241.10h7.2M256.49,237.50v7.2" stroke-width="0.9" stroke="#a06060"/></g>
<g stroke="#5c0000" fill="#f6f2f2" stroke-width="1.9"><circle cx="263.90" cy="239.00" r="3.6"/><path d="M260.30,239.00h7.2M263.90,235.40v7.2" stroke-width="0.9" stroke="#a06060"/></g>
<g stroke="#5c0000" fill="#f6f2f2" stroke-width="1.9"><circle cx="271.31" cy="239.00" r="3.6"/><path d="M267.71,239.00h7.2M271.31,235.40v7.2" stroke-width="0.9" stroke="#a06060"/></g>
<g stroke="#5c0000" fill="#f6f2f2" stroke-width="1.9"><circle cx="278.72" cy="230.00" r="3.6"/><path d="M275.12,230.00h7.2M278.72,226.40v7.2" stroke-width="0.9" stroke="#a06060"/></g>
<g stroke="#5c0000" fill="#f6f2f2" stroke-width="1.9"><circle cx="286.13" cy="242.70" r="3.6"/><path d="M282.53,242.70h7.2M286.13,239.10v7.2" stroke-width="0.9" stroke="#a06060"/></g>
<g stroke="#5c0000" fill="#f6f2f2" stroke-width="1.9"><circle cx="293.54" cy="239.60" r="3.6"/><path d="M289.94,239.60h7.2M293.54,236.00v7.2" stroke-width="0.9" stroke="#a06060"/></g>
<g stroke="#5c0000" fill="#f6f2f2" stroke-width="1.9"><circle cx="300.95" cy="230.60" r="3.6"/><path d="M297.35,230.60h7.2M300.95,227.00v7.2" stroke-width="0.9" stroke="#a06060"/></g>
<g stroke="#5c0000" fill="#f6f2f2" stroke-width="1.9"><circle cx="308.36" cy="242.20" r="3.6"/><path d="M304.76,242.20h7.2M308.36,238.60v7.2" stroke-width="0.9" stroke="#a06060"/></g>
<g stroke="#5c0000" fill="#f6f2f2" stroke-width="1.9"><circle cx="315.77" cy="240.10" r="3.6"/><path d="M312.17,240.10h7.2M315.77,236.50v7.2" stroke-width="0.9" stroke="#a06060"/></g>
<g stroke="#5c0000" fill="#f6f2f2" stroke-width="1.9"><circle cx="323.18" cy="245.40" r="3.6"/><path d="M319.58,245.40h7.2M323.18,241.80v7.2" stroke-width="0.9" stroke="#a06060"/></g>
<g stroke="#5c0000" fill="#f6f2f2" stroke-width="1.9"><circle cx="330.59" cy="231.10" r="3.6"/><path d="M326.99,231.10h7.2M330.59,227.50v7.2" stroke-width="0.9" stroke="#a06060"/></g>
<g stroke="#5c0000" fill="#f6f2f2" stroke-width="1.9"><circle cx="338.00" cy="224.20" r="3.6"/><path d="M334.40,224.20h7.2M338.00,220.60v7.2" stroke-width="0.9" stroke="#a06060"/></g>
<g stroke="#5c0000" fill="#f6f2f2" stroke-width="1.9"><circle cx="345.41" cy="230.00" r="3.6"/><path d="M341.81,230.00h7.2M345.41,226.40v7.2" stroke-width="0.9" stroke="#a06060"/></g>
<g stroke="#5c0000" fill="#f6f2f2" stroke-width="1.9"><circle cx="352.82" cy="220.00" r="3.6"/><path d="M349.22,220.00h7.2M352.82,216.40v7.2" stroke-width="0.9" stroke="#a06060"/></g>
<g stroke="#5c0000" fill="#f6f2f2" stroke-width="1.9"><circle cx="360.23" cy="226.30" r="3.6"/><path d="M356.63,226.30h7.2M360.23,222.70v7.2" stroke-width="0.9" stroke="#a06060"/></g>
<g stroke="#5c0000" fill="#f6f2f2" stroke-width="1.9"><circle cx="367.64" cy="233.20" r="3.6"/><path d="M364.04,233.20h7.2M367.64,229.60v7.2" stroke-width="0.9" stroke="#a06060"/></g>
<g stroke="#5c0000" fill="#f6f2f2" stroke-width="1.9"><circle cx="375.05" cy="217.80" r="3.6"/><path d="M371.45,217.80h7.2M375.05,214.20v7.2" stroke-width="0.9" stroke="#a06060"/></g>
<g stroke="#5c0000" fill="#f6f2f2" stroke-width="1.9"><circle cx="382.46" cy="224.70" r="3.6"/><path d="M378.86,224.70h7.2M382.46,221.10v7.2" stroke-width="0.9" stroke="#a06060"/></g>
<g stroke="#5c0000" fill="#f6f2f2" stroke-width="1.9"><circle cx="389.87" cy="215.70" r="3.6"/><path d="M386.27,215.70h7.2M389.87,212.10v7.2" stroke-width="0.9" stroke="#a06060"/></g>
<g stroke="#5c0000" fill="#f6f2f2" stroke-width="1.9"><circle cx="397.28" cy="214.70" r="3.6"/><path d="M393.68,214.70h7.2M397.28,211.10v7.2" stroke-width="0.9" stroke="#a06060"/></g>
<g stroke="#5c0000" fill="#f6f2f2" stroke-width="1.9"><circle cx="404.69" cy="225.30" r="3.6"/><path d="M401.09,225.30h7.2M404.69,221.70v7.2" stroke-width="0.9" stroke="#a06060"/></g>
<g stroke="#5c0000" fill="#f6f2f2" stroke-width="1.9"><circle cx="412.10" cy="225.30" r="3.6"/><path d="M408.50,225.30h7.2M412.10,221.70v7.2" stroke-width="0.9" stroke="#a06060"/></g>
<line x1="174.7" y1="231.7" x2="441.6" y2="231.7" stroke="#f00" stroke-width="1.9"/>
<g stroke="#00008b" stroke-width="1.7" fill="#dcdcf2"><path d="M189.80,87.10L193.60,94.20L186.00,94.20Z"/><path d="M184.80,91.40h10M189.80,85.90v10" stroke-width="1.0"/></g>
<g stroke="#00008b" stroke-width="1.7" fill="#dcdcf2"><path d="M197.21,108.30L201.01,115.40L193.41,115.40Z"/><path d="M192.21,112.60h10M197.21,107.10v10" stroke-width="1.0"/></g>
<g stroke="#00008b" stroke-width="1.7" fill="#dcdcf2"><path d="M204.62,102.40L208.42,109.50L200.82,109.50Z"/><path d="M199.62,106.70h10M204.62,101.20v10" stroke-width="1.0"/></g>
<g stroke="#00008b" stroke-width="1.7" fill="#dcdcf2"><path d="M212.03,104.60L215.83,111.70L208.23,111.70Z"/><path d="M207.03,108.90h10M212.03,103.40v10" stroke-width="1.0"/></g>
<g stroke="#00008b" stroke-width="1.7" fill="#dcdcf2"><path d="M219.44,101.40L223.24,108.50L215.64,108.50Z"/><path d="M214.44,105.70h10M219.44,100.20v10" stroke-width="1.0"/></g>
<g stroke="#00008b" stroke-width="1.7" fill="#dcdcf2"><path d="M226.85,86.60L230.65,93.70L223.05,93.70Z"/><path d="M221.85,90.90h10M226.85,85.40v10" stroke-width="1.0"/></g>
<g stroke="#00008b" stroke-width="1.7" fill="#dcdcf2"><path d="M234.26,91.30L238.06,98.40L230.46,98.40Z"/><path d="M229.26,95.60h10M234.26,90.10v10" stroke-width="1.0"/></g>
<g stroke="#00008b" stroke-width="1.7" fill="#dcdcf2"><path d="M241.67,105.10L245.47,112.20L237.87,112.20Z"/><path d="M236.67,109.40h10M241.67,103.90v10" stroke-width="1.0"/></g>
<g stroke="#00008b" stroke-width="1.7" fill="#dcdcf2"><path d="M249.08,98.70L252.88,105.80L245.28,105.80Z"/><path d="M244.08,103.00h10M249.08,97.50v10" stroke-width="1.0"/></g>
<g stroke="#00008b" stroke-width="1.7" fill="#dcdcf2"><path d="M256.49,105.10L260.29,112.20L252.69,112.20Z"/><path d="M251.49,109.40h10M256.49,103.90v10" stroke-width="1.0"/></g>
<g stroke="#00008b" stroke-width="1.7" fill="#dcdcf2"><path d="M263.90,102.10L267.70,109.20L260.10,109.20Z"/><path d="M258.90,106.40h10M263.90,100.90v10" stroke-width="1.0"/></g>
<g stroke="#00008b" stroke-width="1.7" fill="#dcdcf2"><path d="M271.31,96.10L275.11,103.20L267.51,103.20Z"/><path d="M266.31,100.40h10M271.31,94.90v10" stroke-width="1.0"/></g>
<g stroke="#00008b" stroke-width="1.7" fill="#dcdcf2"><path d="M278.72,90.30L282.52,97.40L274.92,97.40Z"/><path d="M273.72,94.60h10M278.72,89.10v10" stroke-width="1.0"/></g>
<g stroke="#00008b" stroke-width="1.7" fill="#dcdcf2"><path d="M286.13,92.40L289.93,99.50L282.33,99.50Z"/><path d="M281.13,96.70h10M286.13,91.20v10" stroke-width="1.0"/></g>
<g stroke="#00008b" stroke-width="1.7" fill="#dcdcf2"><path d="M293.54,88.70L297.34,95.80L289.74,95.80Z"/><path d="M288.54,93.00h10M293.54,87.50v10" stroke-width="1.0"/></g>
<g stroke="#00008b" stroke-width="1.7" fill="#dcdcf2"><path d="M300.95,100.90L304.75,108.00L297.15,108.00Z"/><path d="M295.95,105.20h10M300.95,99.70v10" stroke-width="1.0"/></g>
<g stroke="#00008b" stroke-width="1.7" fill="#dcdcf2"><path d="M308.36,90.30L312.16,97.40L304.56,97.40Z"/><path d="M303.36,94.60h10M308.36,89.10v10" stroke-width="1.0"/></g>
<g stroke="#00008b" stroke-width="1.7" fill="#dcdcf2"><path d="M315.77,99.30L319.57,106.40L311.97,106.40Z"/><path d="M310.77,103.60h10M315.77,98.10v10" stroke-width="1.0"/></g>
<g stroke="#00008b" stroke-width="1.7" fill="#dcdcf2"><path d="M323.18,115.20L326.98,122.30L319.38,122.30Z"/><path d="M318.18,119.50h10M323.18,114.00v10" stroke-width="1.0"/></g>
<g stroke="#00008b" stroke-width="1.7" fill="#dcdcf2"><path d="M330.59,113.00L334.39,120.10L326.79,120.10Z"/><path d="M325.59,117.30h10M330.59,111.80v10" stroke-width="1.0"/></g>
<g stroke="#00008b" stroke-width="1.7" fill="#dcdcf2"><path d="M338.00,100.30L341.80,107.40L334.20,107.40Z"/><path d="M333.00,104.60h10M338.00,99.10v10" stroke-width="1.0"/></g>
<g stroke="#00008b" stroke-width="1.7" fill="#dcdcf2"><path d="M345.41,97.70L349.21,104.80L341.61,104.80Z"/><path d="M340.41,102.00h10M345.41,96.50v10" stroke-width="1.0"/></g>
<g stroke="#00008b" stroke-width="1.7" fill="#dcdcf2"><path d="M352.82,91.30L356.62,98.40L349.02,98.40Z"/><path d="M347.82,95.60h10M352.82,90.10v10" stroke-width="1.0"/></g>
<g stroke="#00008b" stroke-width="1.7" fill="#dcdcf2"><path d="M360.23,89.20L364.03,96.30L356.43,96.30Z"/><path d="M355.23,93.50h10M360.23,88.00v10" stroke-width="1.0"/></g>
<g stroke="#00008b" stroke-width="1.7" fill="#dcdcf2"><path d="M367.64,89.70L371.44,96.80L363.84,96.80Z"/><path d="M362.64,94.00h10M367.64,88.50v10" stroke-width="1.0"/></g>
<g stroke="#00008b" stroke-width="1.7" fill="#dcdcf2"><path d="M375.05,98.20L378.85,105.30L371.25,105.30Z"/><path d="M370.05,102.50h10M375.05,97.00v10" stroke-width="1.0"/></g>
<g stroke="#00008b" stroke-width="1.7" fill="#dcdcf2"><path d="M382.46,95.00L386.26,102.10L378.66,102.10Z"/><path d="M377.46,99.30h10M382.46,93.80v10" stroke-width="1.0"/></g>
<g stroke="#00008b" stroke-width="1.7" fill="#dcdcf2"><path d="M389.87,91.90L393.67,99.00L386.07,99.00Z"/><path d="M384.87,96.20h10M389.87,90.70v10" stroke-width="1.0"/></g>
<g stroke="#00008b" stroke-width="1.7" fill="#dcdcf2"><path d="M397.28,70.10L401.08,77.20L393.48,77.20Z"/><path d="M392.28,74.40h10M397.28,68.90v10" stroke-width="1.0"/></g>
<g stroke="#00008b" stroke-width="1.7" fill="#dcdcf2"><path d="M404.69,82.80L408.49,89.90L400.89,89.90Z"/><path d="M399.69,87.10h10M404.69,81.60v10" stroke-width="1.0"/></g>
<g stroke="#00008b" stroke-width="1.7" fill="#dcdcf2"><path d="M412.10,101.90L415.90,109.00L408.30,109.00Z"/><path d="M407.10,106.20h10M412.10,100.70v10" stroke-width="1.0"/></g>
<path d="M189.80,118.40L194.60,127.00L185.00,127.00Z" fill="#0000ff"/>
<path d="M197.21,138.50L202.01,147.10L192.41,147.10Z" fill="#0000ff"/>
<path d="M204.62,114.70L209.42,123.30L199.82,123.30Z" fill="#0000ff"/>
<path d="M212.03,111.00L216.83,119.60L207.23,119.60Z" fill="#0000ff"/>
<path d="M219.44,104.60L224.24,113.20L214.64,113.20Z" fill="#0000ff"/>
<path d="M226.85,110.40L231.65,119.00L222.05,119.00Z" fill="#0000ff"/>
<path d="M234.26,124.20L239.06,132.80L229.46,132.80Z" fill="#0000ff"/>
<path d="M241.67,128.50L246.47,137.10L236.87,137.10Z" fill="#0000ff"/>
<path d="M249.08,133.20L253.88,141.80L244.28,141.80Z" fill="#0000ff"/>
<path d="M256.49,141.70L261.29,150.30L251.69,150.30Z" fill="#0000ff"/>
<path d="M263.90,119.80L268.70,128.40L259.10,128.40Z" fill="#0000ff"/>
<path d="M271.31,129.00L276.11,137.60L266.51,137.60Z" fill="#0000ff"/>
<path d="M278.72,114.70L283.52,123.30L273.92,123.30Z" fill="#0000ff"/>
<path d="M286.13,133.20L290.93,141.80L281.33,141.80Z" fill="#0000ff"/>
<path d="M293.54,110.40L298.34,119.00L288.74,119.00Z" fill="#0000ff"/>
<path d="M300.95,131.10L305.75,139.70L296.15,139.70Z" fill="#0000ff"/>
<path d="M308.36,116.30L313.16,124.90L303.56,124.90Z" fill="#0000ff"/>
<path d="M315.77,118.90L320.57,127.50L310.97,127.50Z" fill="#0000ff"/>
<path d="M323.18,123.70L327.98,132.30L318.38,132.30Z" fill="#0000ff"/>
<path d="M330.59,125.80L335.39,134.40L325.79,134.40Z" fill="#0000ff"/>
<path d="M338.00,129.00L342.80,137.60L333.20,137.60Z" fill="#0000ff"/>
<path d="M345.41,134.80L350.21,143.40L340.61,143.40Z" fill="#0000ff"/>
<path d="M352.82,118.40L357.62,127.00L348.02,127.00Z" fill="#0000ff"/>
<path d="M360.23,126.90L365.03,135.50L355.43,135.50Z" fill="#0000ff"/>
<path d="M367.64,125.30L372.44,133.90L362.84,133.90Z" fill="#0000ff"/>
<path d="M375.05,142.20L379.85,150.80L370.25,150.80Z" fill="#0000ff"/>
<path d="M382.46,124.20L387.26,132.80L377.66,132.80Z" fill="#0000ff"/>
<path d="M389.87,125.80L394.67,134.40L385.07,134.40Z" fill="#0000ff"/>
<path d="M397.28,129.50L402.08,138.10L392.48,138.10Z" fill="#0000ff"/>
<path d="M404.69,136.40L409.49,145.00L399.89,145.00Z" fill="#0000ff"/>
<path d="M412.10,118.40L416.90,127.00L407.30,127.00Z" fill="#0000ff"/>
<g stroke="#0000ff" stroke-width="1.7" fill="#e4e5ff" stroke-linejoin="miter"><path d="M189.80,75.80L193.70,83.10L185.90,83.10Z"/><path d="M187.90,80.40h3.8" stroke-width="0.8" stroke="#6a6cff"/></g>
<g stroke="#0000ff" stroke-width="1.7" fill="#e4e5ff" stroke-linejoin="miter"><path d="M197.21,73.70L201.11,81.00L193.31,81.00Z"/><path d="M195.31,78.30h3.8" stroke-width="0.8" stroke="#6a6cff"/></g>
<g stroke="#0000ff" stroke-width="1.7" fill="#e4e5ff" stroke-linejoin="miter"><path d="M204.62,69.50L208.52,76.80L200.72,76.80Z"/><path d="M202.72,74.10h3.8" stroke-width="0.8" stroke="#6a6cff"/></g>
<g stroke="#0000ff" stroke-width="1.7" fill="#e4e5ff" stroke-linejoin="miter"><path d="M212.03,73.00L215.93,80.30L208.13,80.30Z"/><path d="M210.13,77.60h3.8" stroke-width="0.8" stroke="#6a6cff"/></g>
<g stroke="#0000ff" stroke-width="1.7" fill="#e4e5ff" stroke-linejoin="miter"><path d="M219.44,80.10L223.34,87.40L215.54,87.40Z"/><path d="M217.54,84.70h3.8" stroke-width="0.8" stroke="#6a6cff"/></g>
<g stroke="#0000ff" stroke-width="1.7" fill="#e4e5ff" stroke-linejoin="miter"><path d="M226.85,67.40L230.75,74.70L222.95,74.70Z"/><path d="M224.95,72.00h3.8" stroke-width="0.8" stroke="#6a6cff"/></g>
<g stroke="#0000ff" stroke-width="1.7" fill="#e4e5ff" stroke-linejoin="miter"><path d="M234.26,96.50L238.16,103.80L230.36,103.80Z"/><path d="M232.36,101.10h3.8" stroke-width="0.8" stroke="#6a6cff"/></g>
<g stroke="#0000ff" stroke-width="1.7" fill="#e4e5ff" stroke-linejoin="miter"><path d="M241.67,70.50L245.57,77.80L237.77,77.80Z"/><path d="M239.77,75.10h3.8" stroke-width="0.8" stroke="#6a6cff"/></g>
<g stroke="#0000ff" stroke-width="1.7" fill="#e4e5ff" stroke-linejoin="miter"><path d="M249.08,70.50L252.98,77.80L245.18,77.80Z"/><path d="M247.18,75.10h3.8" stroke-width="0.8" stroke="#6a6cff"/></g>
<g stroke="#0000ff" stroke-width="1.7" fill="#e4e5ff" stroke-linejoin="miter"><path d="M256.49,78.20L260.39,85.50L252.59,85.50Z"/><path d="M254.59,82.80h3.8" stroke-width="0.8" stroke="#6a6cff"/></g>
<g stroke="#0000ff" stroke-width="1.7" fill="#e4e5ff" stroke-linejoin="miter"><path d="M263.90,68.90L267.80,76.20L260.00,76.20Z"/><path d="M262.00,73.50h3.8" stroke-width="0.8" stroke="#6a6cff"/></g>
<g stroke="#0000ff" stroke-width="1.7" fill="#e4e5ff" stroke-linejoin="miter"><path d="M271.31,73.70L275.21,81.00L267.41,81.00Z"/><path d="M269.41,78.30h3.8" stroke-width="0.8" stroke="#6a6cff"/></g>
<g stroke="#0000ff" stroke-width="1.7" fill="#e4e5ff" stroke-linejoin="miter"><path d="M278.72,99.10L282.62,106.40L274.82,106.40Z"/><path d="M276.82,103.70h3.8" stroke-width="0.8" stroke="#6a6cff"/></g>
<g stroke="#0000ff" stroke-width="1.7" fill="#e4e5ff" stroke-linejoin="miter"><path d="M286.13,82.50L290.03,89.80L282.23,89.80Z"/><path d="M284.23,87.10h3.8" stroke-width="0.8" stroke="#6a6cff"/></g>
<g stroke="#0000ff" stroke-width="1.7" fill="#e4e5ff" stroke-linejoin="miter"><path d="M293.54,78.50L297.44,85.80L289.64,85.80Z"/><path d="M291.64,83.10h3.8" stroke-width="0.8" stroke="#6a6cff"/></g>
<g stroke="#0000ff" stroke-width="1.7" fill="#e4e5ff" stroke-linejoin="miter"><path d="M300.95,80.40L304.85,87.70L297.05,87.70Z"/><path d="M299.05,85.00h3.8" stroke-width="0.8" stroke="#6a6cff"/></g>
<g stroke="#0000ff" stroke-width="1.7" fill="#e4e5ff" stroke-linejoin="miter"><path d="M308.36,89.60L312.26,96.90L304.46,96.90Z"/><path d="M306.46,94.20h3.8" stroke-width="0.8" stroke="#6a6cff"/></g>
<g stroke="#0000ff" stroke-width="1.7" fill="#e4e5ff" stroke-linejoin="miter"><path d="M315.77,78.50L319.67,85.80L311.87,85.80Z"/><path d="M313.87,83.10h3.8" stroke-width="0.8" stroke="#6a6cff"/></g>
<g stroke="#0000ff" stroke-width="1.7" fill="#e4e5ff" stroke-linejoin="miter"><path d="M323.18,91.70L327.08,99.00L319.28,99.00Z"/><path d="M321.28,96.30h3.8" stroke-width="0.8" stroke="#6a6cff"/></g>
<g stroke="#0000ff" stroke-width="1.7" fill="#e4e5ff" stroke-linejoin="miter"><path d="M330.59,89.60L334.49,96.90L326.69,96.90Z"/><path d="M328.69,94.20h3.8" stroke-width="0.8" stroke="#6a6cff"/></g>
<g stroke="#0000ff" stroke-width="1.7" fill="#e4e5ff" stroke-linejoin="miter"><path d="M338.00,86.70L341.90,94.00L334.10,94.00Z"/><path d="M336.10,91.30h3.8" stroke-width="0.8" stroke="#6a6cff"/></g>
<g stroke="#0000ff" stroke-width="1.7" fill="#e4e5ff" stroke-linejoin="miter"><path d="M345.41,81.10L349.31,88.40L341.51,88.40Z"/><path d="M343.51,85.70h3.8" stroke-width="0.8" stroke="#6a6cff"/></g>
<g stroke="#0000ff" stroke-width="1.7" fill="#e4e5ff" stroke-linejoin="miter"><path d="M352.82,98.10L356.72,105.40L348.92,105.40Z"/><path d="M350.92,102.70h3.8" stroke-width="0.8" stroke="#6a6cff"/></g>
<g stroke="#0000ff" stroke-width="1.7" fill="#e4e5ff" stroke-linejoin="miter"><path d="M360.23,98.60L364.13,105.90L356.33,105.90Z"/><path d="M358.33,103.20h3.8" stroke-width="0.8" stroke="#6a6cff"/></g>
<g stroke="#0000ff" stroke-width="1.7" fill="#e4e5ff" stroke-linejoin="miter"><path d="M367.64,76.40L371.54,83.70L363.74,83.70Z"/><path d="M365.74,81.00h3.8" stroke-width="0.8" stroke="#6a6cff"/></g>
<g stroke="#0000ff" stroke-width="1.7" fill="#e4e5ff" stroke-linejoin="miter"><path d="M375.05,87.00L378.95,94.30L371.15,94.30Z"/><path d="M373.15,91.60h3.8" stroke-width="0.8" stroke="#6a6cff"/></g>
<g stroke="#0000ff" stroke-width="1.7" fill="#e4e5ff" stroke-linejoin="miter"><path d="M382.46,92.30L386.36,99.60L378.56,99.60Z"/><path d="M380.56,96.90h3.8" stroke-width="0.8" stroke="#6a6cff"/></g>
<g stroke="#0000ff" stroke-width="1.7" fill="#e4e5ff" stroke-linejoin="miter"><path d="M389.87,84.60L393.77,91.90L385.97,91.90Z"/><path d="M387.97,89.20h3.8" stroke-width="0.8" stroke="#6a6cff"/></g>
<g stroke="#0000ff" stroke-width="1.7" fill="#e4e5ff" stroke-linejoin="miter"><path d="M397.28,90.10L401.18,97.40L393.38,97.40Z"/><path d="M395.38,94.70h3.8" stroke-width="0.8" stroke="#6a6cff"/></g>
<g stroke="#0000ff" stroke-width="1.7" fill="#e4e5ff" stroke-linejoin="miter"><path d="M404.69,96.30L408.59,103.60L400.79,103.60Z"/><path d="M402.79,100.90h3.8" stroke-width="0.8" stroke="#6a6cff"/></g>
<g stroke="#0000ff" stroke-width="1.7" fill="#e4e5ff" stroke-linejoin="miter"><path d="M412.10,91.20L416.00,98.50L408.20,98.50Z"/><path d="M410.20,95.80h3.8" stroke-width="0.8" stroke="#6a6cff"/></g>
<line x1="174.7" y1="105.6" x2="441.6" y2="105.6" stroke="#0000ff" stroke-width="1.9"/>
</svg>
</body></html>
